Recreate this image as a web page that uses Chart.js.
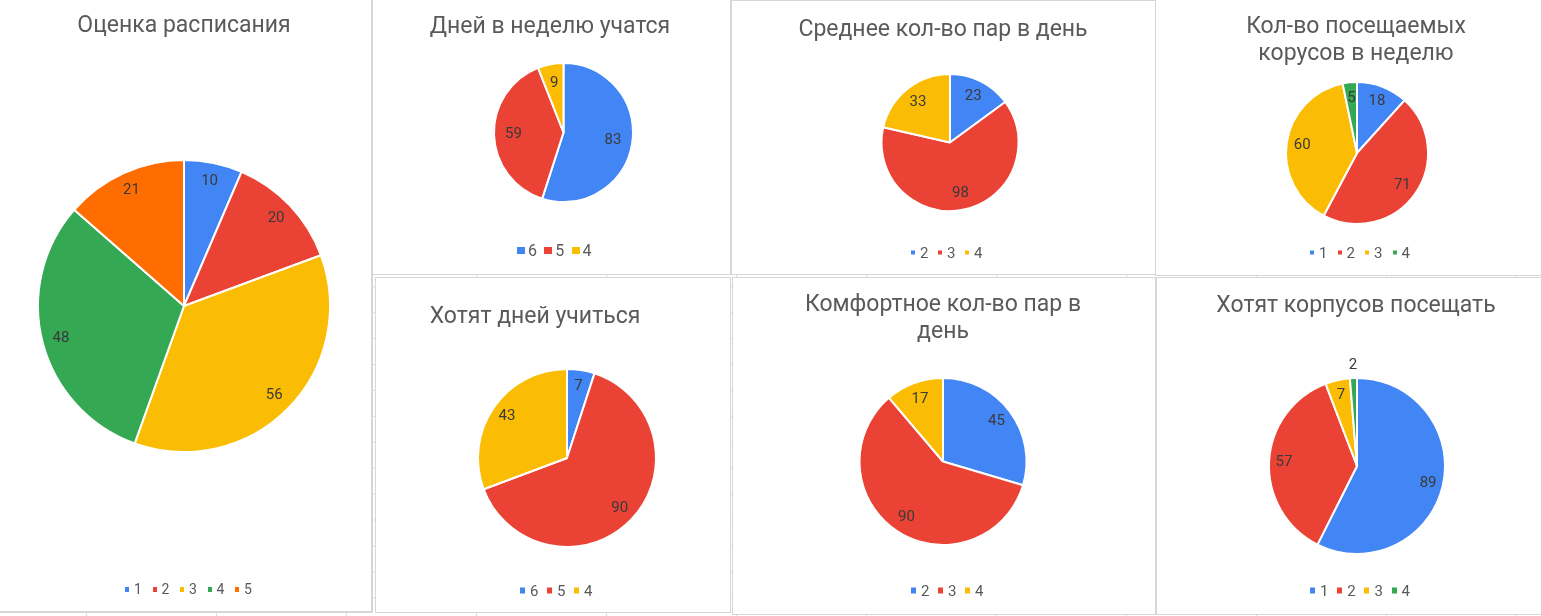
<!DOCTYPE html>
<html><head><meta charset="utf-8">
<script src="https://cdn.jsdelivr.net/npm/chart.js@4.4.1/dist/chart.umd.min.js"></script>
<style>
html,body{margin:0;padding:0}
body{width:1541px;height:616px;overflow:hidden;position:relative;background-color:#fff;
 background-image:linear-gradient(to right,#dcdcdc 1px,transparent 1px),linear-gradient(to bottom,#dcdcdc 1px,transparent 1px);
 background-size:130px 616px,1541px 25.93px;background-position:86px 0,0 27px;
 font-family:Roboto,"Liberation Sans",Arial,sans-serif;}
.panel{position:absolute;background:#fff;border:1px solid #d6d6d6;box-sizing:border-box}
.title{position:absolute;white-space:nowrap;color:#5a5a5a;text-align:center;transform:translateX(-50%);line-height:27px}
.legend{position:absolute;display:flex;align-items:center;color:#595959;white-space:nowrap;transform:translateY(-50%)}
.item{display:flex;align-items:center}
.item span.b{display:inline-block}
canvas{position:absolute}
</style></head><body>
<script>
// ---- data ----
const palette = ['#4285F4', '#EA4335', '#FBBC04', '#34A853', '#FF6D01'];

const ratingTitle = ['Оценка расписания'];
const ratingCats = ['1', '2', '3', '4', '5'];
const ratingVals = [10, 20, 56, 48, 21];

const daysTitle = ['Дней в неделю учатся'];
const daysCats = ['6', '5', '4'];
const daysVals = [83, 59, 9];

const pairsTitle = ['Среднее кол-во пар в день'];
const pairsCats = ['2', '3', '4'];
const pairsVals = [23, 98, 33];

const buildingsTitle = ['Кол-во посещаемых', 'корусов в неделю'];
const buildingsCats = ['1', '2', '3', '4'];
const buildingsVals = [18, 71, 60, 5];

const wantDaysTitle = ['Хотят дней учиться'];
const wantDaysCats = ['6', '5', '4'];
const wantDaysVals = [7, 90, 43];

const comfortTitle = ['Комфортное кол-во пар в', 'день'];
const comfortCats = ['2', '3', '4'];
const comfortVals = [45, 90, 17];

const wantBuildTitle = ['Хотят корпусов посещать'];
const wantBuildCats = ['1', '2', '3', '4'];
const wantBuildVals = [89, 57, 7, 2];

// ---- layout (positions / styles only) ----
const charts = [
  {title: ratingTitle, cats: ratingCats, vals: ratingVals,
   panel: [-2, -2, 375, 615, 2], pie: [184, 306, 146], lf: 0.87,
   t: {cx: 184, base: 32.3, fs: 23},
   lg: {left: 125, cy: 589, bw: 4, bh: 5, fs: 14, gap: 5, pitch: 27.5}},
  {title: daysTitle, cats: daysCats, vals: daysVals,
   panel: [372, -1, 359, 276, 1], pie: [563.5, 132.5, 69.5], lf: 0.72,
   t: {cx: 550, base: 33, fs: 23},
   lg: {left: 517, cy: 250.5, bw: 8, bh: 7, fs: 16, gap: 3, pitch: 27.3}},
  {title: pairsTitle, cats: pairsCats, vals: pairsVals,
   panel: [731, 0, 426, 275, 1], pie: [950, 142.5, 68.5], lf: 0.75,
   t: {cx: 943, base: 36, fs: 23},
   lg: {left: 911, cy: 252.5, bw: 4, bh: 4, fs: 15, gap: 5, pitch: 27}},
  {title: buildingsTitle, cats: buildingsCats, vals: buildingsVals,
   panel: [1155, -1, 390, 277, 1], pie: [1357, 153, 71], lf: 0.78,
   t: {cx: 1356, base: 33.3, fs: 23},
   lg: {left: 1310, cy: 252, bw: 4, bh: 4, fs: 15, gap: 5, pitch: 27.5}},
  {title: wantDaysTitle, cats: wantDaysCats, vals: wantDaysVals,
   panel: [375, 277, 356, 336, 1], pie: [567, 458, 89], lf: 0.82,
   t: {cx: 535, base: 323, fs: 23},
   lg: {left: 520, cy: 590, bw: 5, bh: 6, fs: 15, gap: 5, pitch: 27}},
  {title: comfortTitle, cats: comfortCats, vals: comfortVals,
   panel: [732, 277, 424, 338, 1], pie: [943, 461.5, 83.5], lf: 0.8,
   t: {cx: 943, base: 311, fs: 23},
   lg: {left: 911, cy: 590, bw: 5, bh: 6, fs: 15, gap: 5, pitch: 27}},
  {title: wantBuildTitle, cats: wantBuildCats, vals: wantBuildVals,
   panel: [1156, 277, 390, 338, 1], pie: [1357, 466, 88], lf: 0.83,
   t: {cx: 1356, base: 312, fs: 23},
   lg: {left: 1310, cy: 590, bw: 5, bh: 6, fs: 15, gap: 5, pitch: 27.2}}
];

const valueLabels = {
  id: 'valueLabels',
  afterDatasetsDraw(chart, args, opts) {
    const ctx = chart.ctx;
    const meta = chart.getDatasetMeta(0);
    const data = chart.data.datasets[0].data;
    ctx.save();
    ctx.font = '15px Roboto, "Liberation Sans", Arial, sans-serif';
    ctx.fillStyle = '#3a3a3a';
    ctx.textAlign = 'center';
    ctx.textBaseline = 'middle';
    meta.data.forEach((arc, i) => {
      const p = arc.getProps(['x', 'y', 'startAngle', 'endAngle', 'outerRadius'], true);
      const mid = (p.startAngle + p.endAngle) / 2;
      const span = p.endAngle - p.startAngle;
      const rr = span < 0.14 ? p.outerRadius + 13 : p.outerRadius * opts.f;
      ctx.fillText(String(data[i]), p.x + Math.cos(mid) * rr, p.y + Math.sin(mid) * rr);
    });
    ctx.restore();
  }
};

charts.forEach(c => {
  const [px, py, pw, ph, bw] = c.panel;
  const panel = document.createElement('div');
  panel.className = 'panel';
  Object.assign(panel.style, {left: px + 'px', top: py + 'px', width: pw + 'px', height: ph + 'px', borderWidth: bw + 'px'});
  document.body.appendChild(panel);

  const cv = document.createElement('canvas');
  const cw = pw, ch = ph;
  cv.width = cw; cv.height = ch;
  Object.assign(cv.style, {left: px + 'px', top: py + 'px', width: cw + 'px', height: ch + 'px'});
  document.body.appendChild(cv);
  const [gx, gy, r] = c.pie;
  const lx = gx - px, ly = gy - py;
  const hw = Math.min(lx, cw - lx), hh = Math.min(ly, ch - ly);
  new Chart(cv, {
    type: 'pie',
    data: {
      labels: c.cats,
      datasets: [{data: c.vals, backgroundColor: palette.slice(0, c.vals.length),
        borderColor: '#ffffff', borderWidth: 2, radius: r}]
    },
    options: {
      responsive: false, animation: false, devicePixelRatio: 1,
      layout: {padding: {left: lx - hw, right: cw - lx - hw, top: ly - hh, bottom: ch - ly - hh}},
      plugins: {legend: {display: false}, title: {display: false}, tooltip: {enabled: false},
        valueLabels: {f: c.lf}}
    },
    plugins: [valueLabels]
  });

  const t = document.createElement('div');
  t.className = 'title';
  t.style.fontSize = c.t.fs + 'px';
  t.style.left = c.t.cx + 'px';
  t.style.top = (c.t.base - (13.5 + 0.342 * c.t.fs)) + 'px';
  t.innerHTML = c.title.join('<br>');
  document.body.appendChild(t);

  const lg = document.createElement('div');
  lg.className = 'legend';
  Object.assign(lg.style, {left: c.lg.left + 'px', top: c.lg.cy + 'px', fontSize: c.lg.fs + 'px', height: c.lg.fs + 'px'});
  c.cats.forEach((cat, i) => {
    const it = document.createElement('div');
    it.className = 'item';
    if (i < c.cats.length - 1) it.style.width = c.lg.pitch + 'px';
    const b = document.createElement('span');
    b.className = 'b';
    Object.assign(b.style, {width: c.lg.bw + 'px', height: c.lg.bh + 'px', background: palette[i], marginRight: c.lg.gap + 'px'});
    const s = document.createElement('span');
    s.textContent = cat;
    it.appendChild(b); it.appendChild(s);
    lg.appendChild(it);
  });
  document.body.appendChild(lg);
});
</script>
</body></html>
